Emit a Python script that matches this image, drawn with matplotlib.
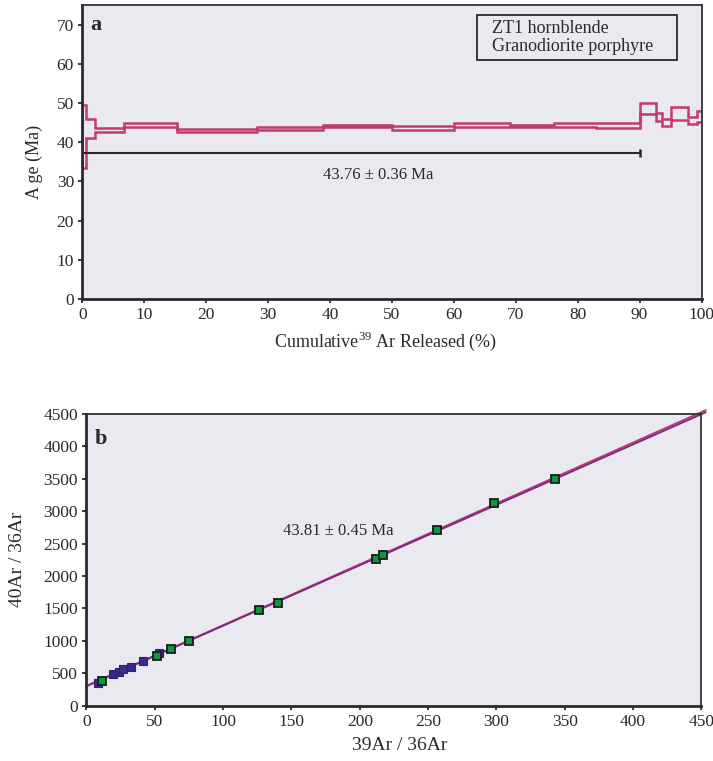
import numpy as np
import matplotlib
matplotlib.use("Agg")
import matplotlib.pyplot as plt
from matplotlib.patches import Rectangle

plt.rcParams['font.family'] = ['Liberation Serif', 'DejaVu Serif']
plt.rcParams['mathtext.fontset'] = 'custom'
plt.rcParams['mathtext.rm'] = 'Liberation Serif'

# --- panel a: age spectrum ---
cum_pct = [0, 0.6, 2.0, 6.8, 15.3, 28.2, 38.8, 50.0, 60.0, 69.0, 76.1, 83.0,
           90.0, 92.7, 93.6, 95.1, 97.8, 99.3, 100]
step_age = [41.4, 43.5, 43.2, 44.4, 42.9, 43.5, 44.2, 43.6, 44.4, 44.1, 44.3, 44.3,
            48.6, 46.4, 45.0, 47.3, 45.5, 46.5]
step_err = [8.1, 2.3, 0.5, 0.4, 0.4, 0.35, 0.25, 0.5, 0.4, 0.3, 0.5, 0.55,
            1.35, 1.05, 0.85, 1.65, 0.85, 1.4]
plateau_age = 37.2
plateau_end = 90.0
plateau_text = "43.76 ± 0.36 Ma"

# --- panel b: isochron ---
green_x = [11.1, 51.8, 61.8, 75.0, 126.2, 140.3, 211.8, 217.1, 256.6, 298.3, 342.7]
green_y = [382, 768, 870, 999, 1471, 1584, 2257, 2324, 2704, 3125, 3490]
blue_x = [8.6, 19.6, 24.0, 26.9, 32.6, 41.6, 53.0]
blue_y = [350, 485, 521, 558, 598, 690, 804]
iso_intercept = 300
iso_slopes = [9.40, 9.33]
iso_text = "43.81 ± 0.45 Ma"

bg = '#e9eaef'
pink = '#c33a6f'
purple = '#7b2c82'
dark = '#2a2a2a'

fig = plt.figure(figsize=(7.13, 7.61), dpi=100)
ax1 = fig.add_axes([0.1154, 0.6071, 0.8685, 0.3863])
ax2 = fig.add_axes([0.1213, 0.0729, 0.8624, 0.3830])

for ax in (ax1, ax2):
    ax.set_facecolor(bg)
    for s in ('left', 'bottom'):
        ax.spines[s].set_linewidth(2.0)
        ax.spines[s].set_color(dark)
    for s in ('top', 'right'):
        ax.spines[s].set_linewidth(1.3)
        ax.spines[s].set_color('#333333')
    ax.tick_params(direction='out', length=3, width=1.3, labelsize=12.5,
                   colors=dark, pad=3)

# spectrum envelope
cum = np.array(cum_pct)
lo = np.array(step_age) - np.array(step_err)
hi = np.array(step_age) + np.array(step_err)
xs = np.repeat(cum, 2)[1:-1]
px = np.concatenate([xs, xs[::-1], [xs[0]]])
py = np.concatenate([np.repeat(hi, 2), np.repeat(lo, 2)[::-1], [hi[0]]])
ax1.plot(px, py, color=pink, lw=1.8, solid_joinstyle='miter')

ax1.errorbar(plateau_end / 2, plateau_age, xerr=plateau_end / 2, fmt='none',
             ecolor=dark, elinewidth=1.5, capsize=3, capthick=1.8)
ax1.text(47.8, 31.7, plateau_text, ha='center', va='center', fontsize=12, color=dark)

ax1.add_patch(Rectangle((0.638, 0.813), 0.322, 0.153, transform=ax1.transAxes,
                        fill=False, edgecolor=dark, lw=1.3))
ax1.text(0.661, 0.889, "ZT1 hornblende\nGranodiorite porphyre", transform=ax1.transAxes,
         ha='left', va='center', fontsize=13, color=dark, linespacing=1.05)
ax1.text(0.013, 0.965, "a", transform=ax1.transAxes, ha='left', va='top',
         fontsize=16, fontweight='bold', color=dark)

ax1.set_xlim(0, 100)
ax1.set_ylim(0, 75)
ax1.set_xticks(np.arange(0, 101, 10))
ax1.set_yticks(np.arange(0, 71, 10))
ax1.set_xlabel("Cumulative$^{39}$ Ar Released (%)", fontsize=13, color=dark)
ax1.set_ylabel("A ge (Ma)", fontsize=13, color=dark)
ax1.xaxis.set_label_coords(0.49, -0.105)
ax1.yaxis.set_label_coords(-0.063, 0.466)

# isochron lines
lx = np.array([0, 453])
ax2.plot(lx, iso_intercept + iso_slopes[0] * lx, color=pink, lw=1.4, clip_on=False)
ax2.plot(lx, iso_intercept + iso_slopes[1] * lx, color=purple, lw=1.4, clip_on=False)
ax2.plot(blue_x, blue_y, 's', ms=5.5, mfc='#3b2a8c', mec='#2e2270', mew=0.8)
ax2.plot(green_x, green_y, 's', ms=6, mfc='#0a9a3c', mec='#1a1a1a', mew=1.3)
ax2.text(184, 2700, iso_text, ha='center', va='center', fontsize=12, color=dark)
ax2.text(0.013, 0.95, "b", transform=ax2.transAxes, ha='left', va='top',
         fontsize=16, fontweight='bold', color=dark)

ax2.set_xlim(0, 450)
ax2.set_ylim(0, 4500)
ax2.set_xticks(np.arange(0, 451, 50))
ax2.set_yticks(np.arange(0, 4501, 500))
ax2.set_xlabel("39Ar / 36Ar", fontsize=14, color=dark)
ax2.set_ylabel("40Ar / 36Ar", fontsize=14, color=dark)
ax2.xaxis.set_label_coords(0.51, -0.108)
ax2.yaxis.set_label_coords(-0.098, 0.5)

fig.savefig("out.png", dpi=100)
